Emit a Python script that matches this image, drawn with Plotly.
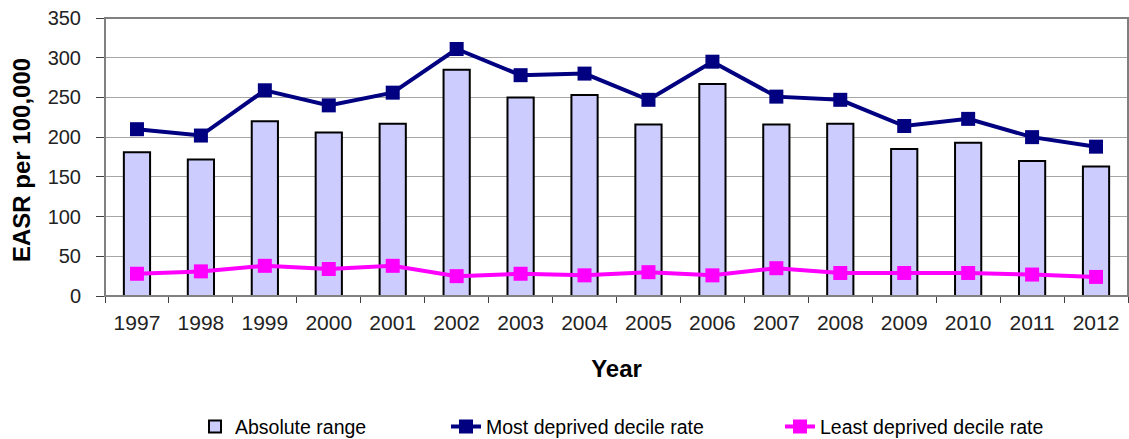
import plotly.graph_objects as go

years = ["1997", "1998", "1999", "2000", "2001", "2002", "2003", "2004",
         "2005", "2006", "2007", "2008", "2009", "2010", "2011", "2012"]
absolute_range = [181, 172, 220, 206, 217, 285, 250, 253,
                  216, 267, 216, 217, 185, 193, 170, 163]
most_deprived = [210, 202, 259, 240, 256, 311, 278, 280,
                 247, 295, 251, 247, 214, 223, 200, 188]
least_deprived = [28, 31, 38, 34, 38, 25, 28, 26,
                  30, 26, 35, 29, 29, 29, 27, 24]

y_ticks = [0, 50, 100, 150, 200, 250, 300, 350]
y_title = "EASR per 100,000"

FONT = "Liberation Sans, Arial, sans-serif"

fig = go.Figure()
fig.add_trace(go.Bar(
    x=years, y=absolute_range, name="Absolute range",
    marker=dict(color="#CCCCFF", line=dict(color="#000000", width=2)),
    width=0.41, legend="legend",
))
fig.add_trace(go.Scatter(
    x=years, y=most_deprived, name="Most deprived decile rate",
    mode="lines+markers",
    line=dict(color="#000080", width=4),
    marker=dict(symbol="square", size=14, color="#000080"),
    legend="legend2",
))
fig.add_trace(go.Scatter(
    x=years, y=least_deprived, name="Least deprived decile rate",
    mode="lines+markers",
    line=dict(color="#FF00FF", width=4),
    marker=dict(symbol="square", size=14, color="#FF00FF"),
    legend="legend3",
))

# plot area spans x 105..1128 px, y 18..296 px
L, W, T, H = 105, 1023, 18, 278


def legend_at(px):
    return dict(
        orientation="h", xref="paper", x=(px - L) / W, xanchor="left",
        y=-0.471, yanchor="middle",
        font=dict(family=FONT, size=19.5, color="#000000"),
        itemwidth=30, bgcolor="rgba(0,0,0,0)",
    )


fig.update_layout(
    width=1129, height=439,
    margin=dict(l=105, r=1, t=18, b=143, autoexpand=False),
    paper_bgcolor="white", plot_bgcolor="white",
    font=dict(family=FONT, color="#000000", size=20),
    showlegend=True,
    legend=legend_at(195),
    legend2=legend_at(446),
    legend3=legend_at(780),
    xaxis=dict(
        type="category", range=[-0.5, 15.5], automargin=False,
        tickson="boundaries", ticks="outside", ticklen=6, tickcolor="#404040",
        showline=True, linecolor="#404040", linewidth=1,
        showgrid=False,
        tickfont=dict(size=21, color="#222222"),
        ticklabelstandoff=8,
        title=dict(text="<b>Year</b>", font=dict(size=24), standoff=26),
    ),
    yaxis=dict(
        range=[0, 350], tickvals=y_ticks, automargin=False,
        ticks="outside", ticklen=8, tickcolor="#404040",
        showline=True, linecolor="#808080", linewidth=1,
        showgrid=True, gridcolor="#A6A6A6", gridwidth=1,
        zeroline=False,
        tickfont=dict(size=20, color="#222222"),
        ticklabelstandoff=11,
    ),
    annotations=[dict(
        text=f"<b>{y_title}</b>", textangle=-90, showarrow=False,
        xref="paper", yref="paper",
        x=(22 - L) / W, y=(T + H - 160) / H, xanchor="center", yanchor="middle",
        font=dict(family=FONT, size=24, color="#000000"),
    )],
    shapes=[dict(type="rect", xref="paper", yref="paper", x0=0, x1=1, y0=0, y1=1,
                 line=dict(color="#808080", width=2), layer="above")],
)

fig.write_html("out.html")
